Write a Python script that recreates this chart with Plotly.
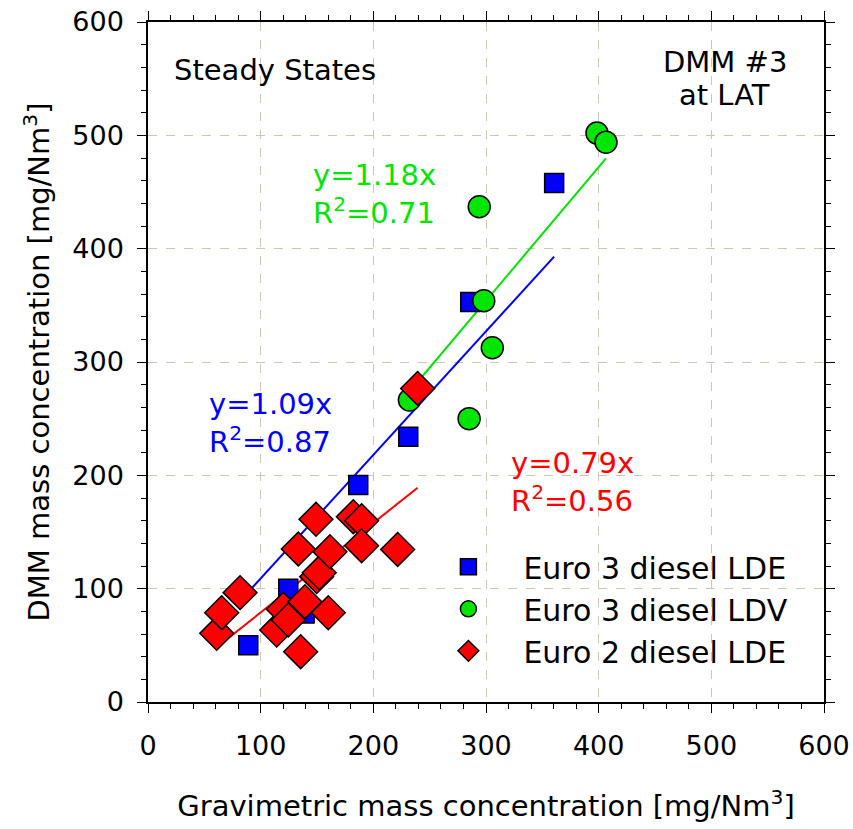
import plotly.graph_objects as go

# Euro 3 diesel LDE (blue squares)
e3_lde_x = [89, 124.5, 139, 186.6, 231, 286, 360.5]
e3_lde_y = [50, 100, 78, 191.5, 234, 353, 458]
# Euro 3 diesel LDV (green circles)
e3_ldv_x = [232, 285, 294, 298, 305.6, 398.5, 406.5]
e3_ldv_y = [266.5, 250, 437, 354, 312.6, 502, 494]
# Euro 2 diesel LDE (red diamonds)
e2_lde_x = [61, 65.4, 81.7, 114.2, 120.1, 124.5, 133.4, 135.5, 139.3, 149.1, 149.7, 152, 160, 161.5, 182.2, 189.6, 189.6, 221.6, 239.3]
e2_lde_y = [60.6, 78.8, 96.5, 63.5, 81.8, 72.4, 135, 44.4, 88.5, 161.2, 110.6, 114, 78.8, 132.6, 163.5, 160, 137.9, 134.6, 276.7]

slopes = {"blue": 1.09, "green": 1.18, "red": 0.79}
r2 = {"blue": 0.87, "green": 0.71, "red": 0.56}

BLUE = "#0000ff"
GREEN = "#00e600"
RED = "#ff0000"
FONT = "DejaVu Sans"

fig = go.Figure()

def fitline(xs, k, color):
    x0, x1 = min(xs), max(xs)
    fig.add_trace(go.Scatter(x=[x0, x1], y=[k * x0, k * x1], mode="lines",
                             line=dict(color=color, width=2), showlegend=False,
                             hoverinfo="skip"))

fitline(e3_lde_x, slopes["blue"], BLUE)
fitline(e3_ldv_x, slopes["green"], GREEN)
fitline(e2_lde_x, slopes["red"], RED)

fig.add_trace(go.Scatter(x=e3_lde_x, y=e3_lde_y, mode="markers", name="Euro 3 diesel LDE",
                         marker=dict(symbol="square", size=19, color=BLUE,
                                     line=dict(color="black", width=1.5))))
fig.add_trace(go.Scatter(x=e3_ldv_x, y=e3_ldv_y, mode="markers", name="Euro 3 diesel LDV",
                         marker=dict(symbol="circle", size=22, color=GREEN,
                                     line=dict(color="black", width=1.5))))
fig.add_trace(go.Scatter(x=e2_lde_x, y=e2_lde_y, mode="markers", name="Euro 2 diesel LDE",
                         marker=dict(symbol="diamond", size=26, color=RED,
                                     line=dict(color="black", width=1.5))))

def ann(x, y, text, color, align="left", xanchor="left", size=29):
    fig.add_annotation(x=x, y=y, xref="x", yref="y", text=text, showarrow=False,
                       xanchor=xanchor, yanchor="middle", align=align,
                       font=dict(family=FONT, size=size, color=color))

ann(21.5, 558, "Steady States", "black")
ann(512, 565, "DMM #3", "black", xanchor="center")
ann(512, 536, "at LAT", "black", xanchor="center")
ann(145, 448.5, "y=1.18x<br>R<sup>2</sup>=0.71", GREEN)
ann(52, 246, "y=1.09x<br>R<sup>2</sup>=0.87", BLUE)
ann(320, 194.5, "y=0.79x<br>R<sup>2</sup>=0.56", RED)

axis_common = dict(
    range=[0, 600], dtick=100, showgrid=True, gridcolor="#c8c8b4", griddash="dash",
    gridwidth=1, zeroline=False, showline=True, linecolor="black", linewidth=1.5,
    mirror="allticks", ticks="outside", ticklen=9, tickwidth=1, tickcolor="black",
    tickfont=dict(family=FONT, size=27, color="black"), automargin=False,
    minor=dict(dtick=20, ticks="outside", ticklen=5, tickcolor="black", showgrid=False),
)

fig.update_layout(
    width=853, height=829,
    margin=dict(l=148, r=29, t=22, b=127),
    paper_bgcolor="white", plot_bgcolor="white",
    xaxis=dict(**axis_common, ticklabelstandoff=10,
               title=dict(text="Gravimetric mass concentration [mg/Nm<sup>3</sup>]",
                          font=dict(family=FONT, size=29, color="black"), standoff=36)),
    yaxis=dict(**axis_common, ticklabelstandoff=8,
               title=dict(text="DMM mass concentration [mg/Nm<sup>3</sup>]",
                          font=dict(family=FONT, size=29, color="black"), standoff=14)),
    legend=dict(x=0.3926, y=0.237, xanchor="left", yanchor="top", bgcolor="rgba(0,0,0,0)",
                font=dict(family=FONT, size=30, color="black"), itemsizing="trace",
                itemwidth=100, tracegroupgap=0),
)

fig.write_html("out.html")
